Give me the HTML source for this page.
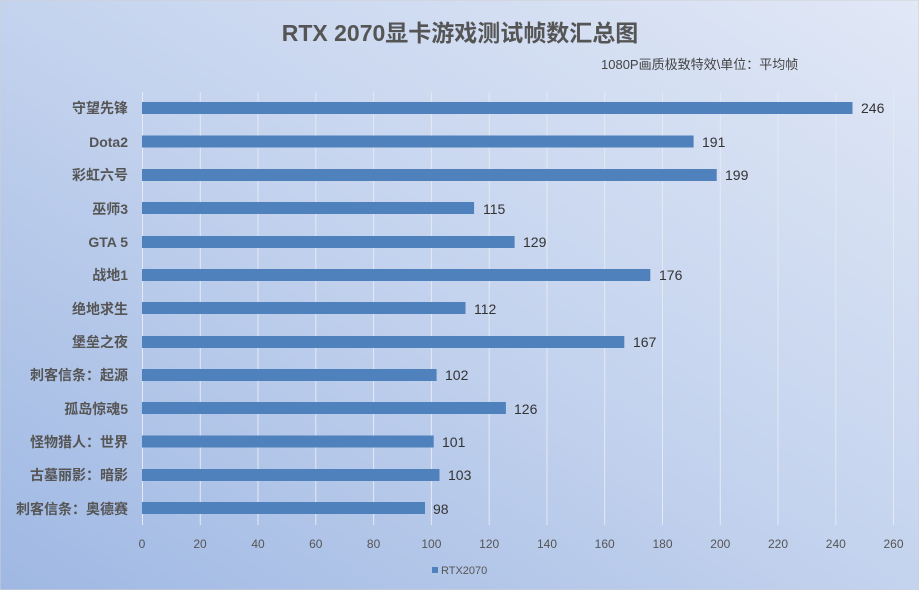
<!DOCTYPE html>
<html><head><meta charset="utf-8"><style>
html,body{margin:0;padding:0;}
body{width:919px;height:590px;overflow:hidden;}
svg{display:block;font-family:"Liberation Sans","Noto Sans CJK SC",sans-serif;}
</style></head><body>
<svg width="919" height="590" xmlns="http://www.w3.org/2000/svg">
<defs>
<linearGradient id="bg" x1="0" y1="1" x2="1" y2="0">
<stop offset="0" stop-color="#9fb8e3"/>
<stop offset="0.5" stop-color="#c4d3ee"/>
<stop offset="1" stop-color="#e1e8f6"/>
</linearGradient>
</defs>
<rect x="0" y="0" width="919" height="590" fill="url(#bg)" stroke="#d0d0d0"/>
<text x="460" y="41" text-anchor="middle" font-size="23" font-weight="bold" fill="#555">RTX 2070显卡游戏测试帧数汇总图</text>
<text x="601" y="69" font-size="13" fill="#444">1080P画质极致特效\单位：平均帧</text>
<g stroke="#e4e9f3" stroke-width="1">
<line x1="142.5" y1="92" x2="142.5" y2="525"/>
<line x1="200.3" y1="92" x2="200.3" y2="525"/>
<line x1="258" y1="92" x2="258" y2="525"/>
<line x1="315.8" y1="92" x2="315.8" y2="525"/>
<line x1="373.6" y1="92" x2="373.6" y2="525"/>
<line x1="431.4" y1="92" x2="431.4" y2="525"/>
<line x1="489.2" y1="92" x2="489.2" y2="525"/>
<line x1="547" y1="92" x2="547" y2="525"/>
<line x1="604.7" y1="92" x2="604.7" y2="525"/>
<line x1="662.5" y1="92" x2="662.5" y2="525"/>
<line x1="720.3" y1="92" x2="720.3" y2="525"/>
<line x1="778" y1="92" x2="778" y2="525"/>
<line x1="835.8" y1="92" x2="835.8" y2="525"/>
<line x1="893.5" y1="92" x2="893.5" y2="525"/>
</g>
<g fill="#4f81bd">
<rect x="142" y="102" width="710.5" height="12"/>
<rect x="142" y="135.5" width="551.6" height="12"/>
<rect x="142" y="169" width="574.7" height="12"/>
<rect x="142" y="202" width="332.1" height="12"/>
<rect x="142" y="236" width="372.6" height="12"/>
<rect x="142" y="269" width="508.3" height="12"/>
<rect x="142" y="302" width="323.5" height="12"/>
<rect x="142" y="336" width="482.3" height="12"/>
<rect x="142" y="369" width="294.6" height="12"/>
<rect x="142" y="402" width="363.9" height="12"/>
<rect x="142" y="435.5" width="291.7" height="12"/>
<rect x="142" y="469" width="297.5" height="12"/>
<rect x="142" y="502" width="283" height="12"/>
</g>
<g font-size="14" fill="#333">
<text x="861" y="113">246</text><text x="702" y="147">191</text><text x="725" y="180">199</text>
<text x="483" y="214">115</text><text x="523" y="247">129</text><text x="659" y="280">176</text>
<text x="474" y="314">112</text><text x="633" y="347">167</text><text x="445" y="380">102</text>
<text x="514" y="414">126</text><text x="442" y="447">101</text><text x="448" y="480">103</text>
<text x="433" y="514">98</text>
</g>
<g font-size="14" font-weight="bold" fill="#555" text-anchor="end">
<text x="128" y="113">守望先锋</text><text x="128" y="147">Dota2</text><text x="128" y="180">彩虹六号</text>
<text x="128" y="214">巫师3</text><text x="128" y="247">GTA 5</text><text x="128" y="280">战地1</text>
<text x="128" y="314">绝地求生</text><text x="128" y="347">堡垒之夜</text><text x="128" y="380">刺客信条：起源</text>
<text x="128" y="414">孤岛惊魂5</text><text x="128" y="447">怪物猎人：世界</text><text x="128" y="480">古墓丽影：暗影</text>
<text x="128" y="514">刺客信条：奥德赛</text>
</g>
<g font-size="12" fill="#555" text-anchor="middle">
<text x="142" y="548">0</text><text x="200" y="548">20</text><text x="258" y="548">40</text>
<text x="315.8" y="548">60</text><text x="373.6" y="548">80</text><text x="431.4" y="548">100</text>
<text x="489.2" y="548">120</text><text x="547" y="548">140</text><text x="604.7" y="548">160</text>
<text x="662.5" y="548">180</text><text x="720.3" y="548">200</text><text x="778" y="548">220</text>
<text x="835.8" y="548">240</text><text x="893.5" y="548">260</text>
</g>
<rect x="432" y="567" width="6" height="6" fill="#4f81bd"/>
<text x="441" y="574" font-size="11" fill="#555">RTX2070</text>
</svg>
</body></html>
